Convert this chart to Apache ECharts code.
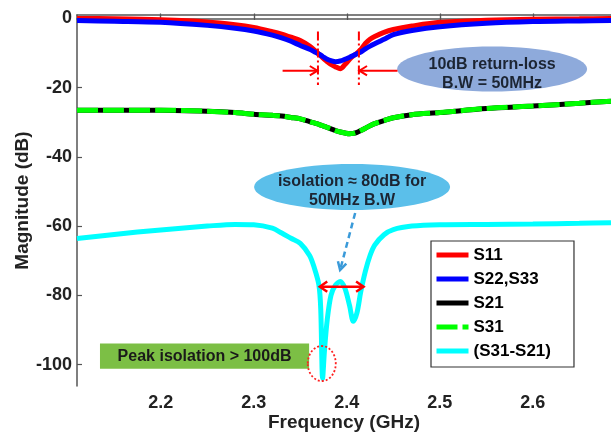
<!DOCTYPE html>
<html><head><meta charset="utf-8">
<script src="https://cdn.jsdelivr.net/npm/echarts@6/dist/echarts.min.js"></script>
<style>html,body{margin:0;padding:0;background:#fff}#c{width:611px;height:432px}</style>
</head><body><div id="c"></div>
<script>
// ---- data ----
const freq = [2.11, 2.15, 2.2, 2.25, 2.28, 2.3, 2.32, 2.33, 2.34, 2.35, 2.36, 2.365, 2.37, 2.372, 2.374, 2.376, 2.379, 2.383, 2.388, 2.393, 2.398, 2.403, 2.407, 2.411, 2.415, 2.42, 2.425, 2.43, 2.44, 2.45, 2.47, 2.5, 2.55, 2.6, 2.65, 2.684];
const s11 = [0.0, -0.1, -0.4, -1.0, -1.8, -2.6, -3.8, -4.5, -5.4, -6.4, -8.0, -9.1, -10.3, -10.8, -11.3, -11.8, -12.5, -13.3, -14.0, -14.5, -13.3, -11.8, -10.8, -10.0, -9.0, -7.2, -6.0, -5.2, -4.0, -3.2, -2.2, -1.1, -0.5, -0.2, -0.1, 0.0];
const s22 = [-0.6, -0.8, -1.1, -2.0, -2.8, -3.6, -4.8, -5.6, -6.6, -7.8, -8.9, -9.6, -10.3, -10.6, -11.0, -11.3, -11.8, -12.2, -12.5, -12.3, -11.8, -11.2, -10.7, -10.2, -9.7, -8.8, -8.0, -7.3, -6.0, -4.7, -3.5, -2.4, -1.4, -0.9, -0.7, -0.6];
const s21 = [-26.5, -26.5, -26.5, -26.8, -27.2, -27.7, -28.0, -28.2, -28.6, -29.0, -29.8, -30.2, -30.6, -30.8, -31.0, -31.2, -31.5, -31.9, -32.4, -32.8, -33.1, -33.3, -33.2, -32.9, -32.4, -31.7, -31.0, -30.4, -29.5, -28.7, -27.8, -27.2, -26.0, -25.3, -24.5, -23.9];
const s31 = [-26.5, -26.5, -26.5, -26.8, -27.2, -27.7, -28.0, -28.2, -28.6, -29.0, -29.8, -30.2, -30.6, -30.8, -31.0, -31.2, -31.5, -31.9, -32.4, -32.8, -33.1, -33.3, -33.2, -32.9, -32.4, -31.7, -31.0, -30.4, -29.5, -28.7, -27.8, -27.2, -26.0, -25.3, -24.5, -23.9];
const isoDiff = [-63.6, -62.4, -61.1, -60.0, -59.5, -59.6, -60.6, -62.0, -63.5, -65.0, -68.5, -72.0, -77.0, -84.0, -104.0, -96.0, -87.0, -80.0, -77.0, -76.0, -78.0, -83.0, -87.5, -85.0, -79.0, -73.0, -68.5, -65.5, -62.5, -61.0, -60.0, -59.6, -59.5, -59.4, -59.2, -59.0];
const xTicks = [2.2, 2.3, 2.4, 2.5, 2.6];
const yTicks = [0, -20, -40, -60, -80, -100];
const seriesNames = ['S11', 'S22,S33', 'S21', 'S31', '(S31-S21)'];

const FONT = '"Liberation Sans", Arial, sans-serif';
const pair = arr => freq.map((f, i) => [f, arr[i]]);
const chart = echarts.init(document.getElementById('c'), null, {renderer: 'canvas'});

const axLine = {show: true, lineStyle: {color: '#555', width: 1.5}};
const tickStyle = {color: '#555', width: 1.2};
const lineSeries = (name, arr, color, z, extra) => Object.assign({
  name, type: 'line', data: pair(arr), symbol: 'none', showSymbol: false, smooth: 0.3,
  z, lineStyle: {color, width: 5}, itemStyle: {color}
}, extra || {});

const option = {
  animation: false,
  backgroundColor: '#fff',
  grid: {left: 77, top: 15, right: 0, bottom: 46, containLabel: false, outerBoundsMode: 'none'},
  xAxis: [{
    type: 'value', min: 2.11, max: 2.684, position: 'bottom',
    axisLine: axLine,
    axisTick: {inside: true, length: 5, customValues: xTicks, lineStyle: tickStyle},
    axisLabel: {customValues: xTicks, formatter: v => v.toFixed(1), fontFamily: FONT, fontSize: 18, fontWeight: 'bold', color: '#222', margin: 8},
    splitLine: {show: false},
    name: 'Frequency (GHz)', nameLocation: 'middle', nameGap: 27, nameMoveOverlap: false,
    nameTextStyle: {fontFamily: FONT, fontSize: 19, fontWeight: 'bold', color: '#222'}
  }, {
    type: 'value', min: 2.11, max: 2.684, position: 'top',
    axisLine: axLine,
    axisTick: {inside: true, length: 5, customValues: xTicks, lineStyle: tickStyle},
    axisLabel: {show: false}, splitLine: {show: false}
  }],
  yAxis: {
    type: 'value', min: -106.2, max: 1.0,
    axisLine: axLine,
    axisTick: {inside: true, length: 5, customValues: yTicks, lineStyle: tickStyle},
    axisLabel: {customValues: yTicks, fontFamily: FONT, fontSize: 18, fontWeight: 'bold', color: '#222', margin: 5},
    splitLine: {show: false},
    name: 'Magnitude (dB)', nameLocation: 'middle', nameGap: 45, nameRotate: 90, nameMoveOverlap: false,
    nameTextStyle: {fontFamily: FONT, fontSize: 19, fontWeight: 'bold', color: '#222'}
  },
  legend: {
    data: seriesNames, orient: 'vertical', left: 431, top: 241,
    itemWidth: 32, itemHeight: 14, itemGap: 6,
    padding: [5, 23, 7, 3],
    borderColor: '#333', borderWidth: 1.2, backgroundColor: '#fff',
    itemStyle: {color: 'transparent', borderWidth: 0, opacity: 0},
    lineStyle: {width: 5},
    textStyle: {fontFamily: FONT, fontSize: 17, fontWeight: 'bold', color: '#000', lineHeight: 18}
  },
  series: [
    lineSeries(seriesNames[0], s11, '#ff0000', 3),
    lineSeries(seriesNames[1], s22, '#0000ff', 4),
    lineSeries(seriesNames[2], s21, '#000000', 2),
    lineSeries(seriesNames[3], s31, '#00ff00', 2.5, {lineStyle: {color: '#00ff00', width: 5, type: [21, 5]}}),
    lineSeries(seriesNames[4], isoDiff, '#00ffff', 2)
  ]
};
chart.setOption(option);

// ---- annotations placed in data coordinates ----
const P = (x, y) => chart.convertToPixel({xAxisIndex: 0, yAxisIndex: 0}, [x, y]);
function chevron(tip, from, len, ang) {
  const dx = tip[0] - from[0], dy = tip[1] - from[1];
  const L = Math.hypot(dx, dy), ux = dx / L, uy = dy / L;
  const r = a => [tip[0] - len * (ux * Math.cos(a) - uy * Math.sin(a)), tip[1] - len * (uy * Math.cos(a) + ux * Math.sin(a))];
  return [r(ang), tip, r(-ang)];
}
const g = [];
const txt = (x, y, text, size, color) => ({type: 'text', z: 100, x, y, style: {text, fill: color, font: 'bold ' + size + 'px ' + FONT, align: 'center', verticalAlign: 'middle'}});

// return-loss ellipse
const rl = P(2.5562, -14.6);
g.push({type: 'ellipse', z: 90, shape: {cx: rl[0], cy: rl[1], rx: 95, ry: 22.5}, style: {fill: '#8eaadb'}});
g.push(txt(rl[0], rl[1] - 4, '10dB return-loss', 16, '#1c2533'));
g.push(txt(rl[0], rl[1] + 14.5, 'B.W = 50MHz', 16, '#1c2533'));
// red dashed verticals at the -10 dB points
[2.369, 2.413].forEach(f => {
  const a = P(f, -3.8), b = P(f, -19.2);
  g.push({type: 'line', z: 95, shape: {x1: a[0], y1: a[1], x2: b[0], y2: b[1]}, style: {stroke: '#ff0000', lineWidth: 2, lineDash: [9, 3, 2, 3]}});
});
// red arrows pointing to the band edges
[[2.331, 2.3685], [2.4545, 2.4135]].forEach(([f0, f1]) => {
  const a = P(f0, -15.1), b = P(f1, -15.1);
  g.push({type: 'line', z: 95, shape: {x1: a[0], y1: a[1], x2: b[0], y2: b[1]}, style: {stroke: '#ff0000', lineWidth: 2}});
  g.push({type: 'polyline', z: 95, shape: {points: chevron(b, a, 9, 0.55)}, style: {stroke: '#ff0000', lineWidth: 2, fill: null}});
});

// isolation ellipse
const ie = P(2.4057, -48.7);
g.push({type: 'ellipse', z: 90, shape: {cx: ie[0], cy: ie[1], rx: 98, ry: 23}, style: {fill: '#5bbfea'}});
g.push(txt(ie[0], ie[1] - 5, 'isolation \u2248 80dB for', 16, '#1c2533'));
g.push(txt(ie[0], ie[1] + 14, '50MHz B.W', 16, '#1c2533'));
// blue dashed arrow
const ba = P(2.409, -56.2), bb = P(2.3928, -72.7);
g.push({type: 'line', z: 95, shape: {x1: ba[0], y1: ba[1], x2: bb[0], y2: bb[1]}, style: {stroke: '#3a9ad9', lineWidth: 2.5, lineDash: [6, 4]}});
g.push({type: 'polyline', z: 95, shape: {points: chevron(bb, ba, 9, 0.5)}, style: {stroke: '#3a9ad9', lineWidth: 2.5, fill: null}});
// red double arrow across the isolation band
const da = P(2.371, -77.5), db = P(2.418, -77.5);
g.push({type: 'line', z: 95, shape: {x1: da[0], y1: da[1], x2: db[0], y2: db[1]}, style: {stroke: '#ff0000', lineWidth: 2.5}});
g.push({type: 'polyline', z: 95, shape: {points: chevron(da, db, 9, 0.6)}, style: {stroke: '#ff0000', lineWidth: 2.5, fill: null}});
g.push({type: 'polyline', z: 95, shape: {points: chevron(db, da, 9, 0.6)}, style: {stroke: '#ff0000', lineWidth: 2.5, fill: null}});

// peak isolation box
const r0 = P(2.1347, -93.9), r1 = P(2.3595, -101.2);
g.push({type: 'rect', z: 90, shape: {x: r0[0], y: r0[1], width: r1[0] - r0[0], height: r1[1] - r0[1]}, style: {fill: '#7cbf45'}});
g.push(txt((r0[0] + r1[0]) / 2, (r0[1] + r1[1]) / 2 + 1, 'Peak isolation > 100dB', 16, '#1a1a1a'));
// red dotted ellipse around the notch
const ne = P(2.3731, -99.7);
g.push({type: 'ellipse', z: 95, shape: {cx: ne[0], cy: ne[1], rx: 14, ry: 17.5}, style: {fill: null, stroke: '#ff2020', lineWidth: 1.8, lineDash: [2, 2]}});

chart.setOption({graphic: g});
</script>
</body></html>
